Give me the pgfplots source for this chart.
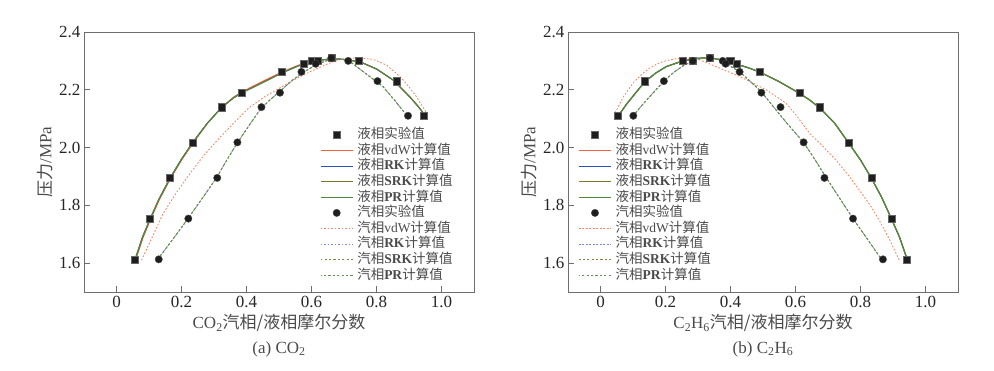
\documentclass[border=0pt]{standalone}
\usepackage{fontspec}
\setmainfont{Liberation Serif}
\newfontfamily\cjkfont{Noto Sans CJK SC}
\newcommand{\cjk}[1]{{\cjkfont #1}}
\usepackage{pgfplots}
\pgfplotsset{compat=1.18}
\definecolor{cvdw}{HTML}{F2603E}
\definecolor{crk}{HTML}{2A52BE}
\definecolor{csrk}{HTML}{7E7A22}
\definecolor{cpr}{HTML}{4F8A3F}
\definecolor{vvdw}{HTML}{F5845F}
\definecolor{vrk}{HTML}{7C86DA}
\definecolor{vsrk}{HTML}{8C8440}
\definecolor{vpr}{HTML}{58984C}
\definecolor{axgray}{HTML}{6E6E6E}
\definecolor{txt}{HTML}{4A4A4A}
\definecolor{mk}{HTML}{1E1E1E}

\pgfplotstableread{
x y
0.056 1.613
0.103 1.754
0.164 1.895
0.234 2.018
0.324 2.140
0.385 2.190
0.508 2.262
0.576 2.290
0.600 2.300
0.620 2.300
0.661 2.310
0.744 2.300
0.862 2.230
0.944 2.110
}\aLexp
\pgfplotstableread{
x y
0.130 1.613
0.221 1.754
0.310 1.895
0.372 2.018
0.446 2.140
0.503 2.190
0.569 2.262
0.613 2.290
0.661 2.310
0.713 2.300
0.803 2.230
0.897 2.110
}\aVexp
\pgfplotstableread{
x y
0.060 1.622
0.080 1.690
0.103 1.752
0.130 1.820
0.164 1.893
0.200 1.960
0.236 2.020
0.280 2.085
0.323 2.138
0.360 2.172
0.390 2.192
0.450 2.225
0.508 2.258
0.560 2.283
0.610 2.300
0.660 2.307
0.700 2.305
0.749 2.297
0.800 2.272
0.851 2.234
0.902 2.176
0.930 2.140
0.948 2.113
}\aLmod
\pgfplotstableread{
x y
0.062 1.622
0.082 1.690
0.105 1.752
0.132 1.820
0.166 1.893
0.202 1.960
0.238 2.020
0.282 2.087
0.325 2.141
0.362 2.176
0.392 2.196
0.450 2.229
0.508 2.261
0.560 2.285
0.610 2.301
0.660 2.307
0.700 2.305
0.749 2.297
0.800 2.272
0.851 2.234
0.902 2.176
0.930 2.140
0.948 2.113
}\aLvdw
\pgfplotstableread{
x y
0.128 1.615
0.175 1.685
0.220 1.754
0.265 1.826
0.308 1.896
0.340 1.958
0.374 2.020
0.410 2.080
0.441 2.130
0.470 2.163
0.502 2.194
0.540 2.232
0.580 2.264
0.620 2.290
0.660 2.306
0.690 2.307
0.718 2.298
0.760 2.262
0.800 2.228
0.820 2.211
0.860 2.158
0.895 2.108
}\aVmod
\pgfplotstableread{
x y
0.077 1.610
0.110 1.690
0.143 1.771
0.185 1.845
0.226 1.910
0.270 1.975
0.318 2.035
0.365 2.090
0.410 2.140
0.455 2.175
0.500 2.205
0.550 2.237
0.600 2.265
0.650 2.290
0.690 2.305
0.740 2.311
0.790 2.305
0.830 2.286
0.872 2.246
0.900 2.210
0.923 2.176
0.955 2.118
}\aVvdw

\pgfplotstableread{
x y
0.053 2.110
0.135 2.230
0.253 2.300
0.284 2.300
0.337 2.310
0.399 2.300
0.420 2.290
0.489 2.262
0.612 2.190
0.674 2.140
0.763 2.018
0.835 1.895
0.897 1.754
0.943 1.613
}\bLexp
\pgfplotstableread{
x y
0.101 2.110
0.195 2.230
0.284 2.300
0.337 2.310
0.376 2.300
0.385 2.290
0.428 2.262
0.495 2.190
0.554 2.140
0.625 2.018
0.689 1.895
0.777 1.754
0.869 1.613
}\bVexp
\pgfplotstableread{
x y
0.058 2.115
0.080 2.150
0.100 2.178
0.135 2.226
0.170 2.258
0.202 2.280
0.253 2.300
0.300 2.309
0.335 2.311
0.370 2.304
0.407 2.292
0.450 2.278
0.489 2.262
0.550 2.228
0.612 2.188
0.643 2.165
0.674 2.138
0.720 2.085
0.761 2.020
0.800 1.957
0.833 1.895
0.865 1.828
0.895 1.754
0.920 1.690
0.942 1.618
}\bLmod
\pgfplotstableread{
x y
0.101 2.110
0.125 2.143
0.151 2.176
0.197 2.232
0.225 2.260
0.253 2.282
0.292 2.305
0.335 2.312
0.360 2.305
0.387 2.291
0.428 2.262
0.460 2.230
0.495 2.193
0.533 2.140
0.575 2.082
0.625 2.018
0.660 1.958
0.695 1.895
0.735 1.826
0.777 1.754
0.820 1.685
0.865 1.612
}\bVmod
\pgfplotstableread{
x y
0.045 2.120
0.070 2.175
0.100 2.223
0.125 2.252
0.151 2.275
0.175 2.290
0.202 2.301
0.235 2.308
0.264 2.310
0.305 2.304
0.356 2.280
0.428 2.246
0.510 2.200
0.571 2.153
0.600 2.115
0.643 2.050
0.685 2.003
0.725 1.956
0.762 1.905
0.797 1.852
0.830 1.800
0.858 1.748
0.890 1.680
0.920 1.609
}\bVvdw

\pgfplotsset{
  myax/.style={
    width=390pt, height=260pt, scale only axis,
    xmin=-0.1, xmax=1.1, ymin=1.5, ymax=2.4,
    xtick={0,0.2,0.4,0.6,0.8,1.0}, xticklabels={0,0.2,0.4,0.6,0.8,1.0},
    ytick={1.6,1.8,2.0,2.2,2.4}, yticklabels={1.6,1.8,2.0,2.2,2.4},
    /pgf/number format/assume math mode=true,
    tick align=inside, xtick pos=bottom, ytick pos=left,
    major tick length=6pt,
    axis line style={axgray, line width=0.9pt},
    tick style={axgray, line width=0.9pt},
    ticklabel style={font=\rmfamily\fontsize{17}{18}\selectfont, text=black!85},
    xticklabel style={yshift=-1pt},
    label style={font=\rmfamily\fontsize{17}{18}\selectfont, text=txt},
    xlabel style={at={(axis description cs:0.5,-0.119)}, anchor=center},
    ylabel style={at={(axis description cs:-0.1,0.5)}, anchor=center},
    title style={at={(axis description cs:0.5,-0.243)}, anchor=center, font=\rmfamily\fontsize{17}{18}\selectfont, text=txt},
    legend cell align=left,
    legend image code/.code={\draw[mark repeat=2,mark phase=2,##1] plot coordinates {(0pt,0pt) (16pt,0pt) (32pt,0pt)};},
    legend style={draw=none, fill=none, inner sep=0pt, row sep=0pt,
      font=\rmfamily\fontsize{13.5}{14}\selectfont, text=txt,
      nodes={text height=10.6pt, text depth=3pt, inner sep=1pt},
      /tikz/every odd column/.append style={column sep=3pt}},
    clip=false,
  },
  sq/.style={only marks, mark=square*, mark size=3.6pt, mark options={fill=mk, draw=black!60, line width=0.4pt}},
  ci/.style={only marks, mark=*, mark size=3.7pt, mark options={fill=mk, draw=black!70, line width=0.4pt}},
  vd/.style={line width=0.85pt, dash pattern=on 1.7pt off 1.8pt},
  vd2/.style={line width=0.85pt, dash pattern=on 2.2pt off 2.2pt},
}
\newcommand{\Lq}{\cjk{液相}}
\newcommand{\Vq}{\cjk{汽相}}
\newcommand{\Js}{\cjk{计算值}}

\begin{document}
\begin{tikzpicture}[x=1pt,y=1pt]
\path[use as bounding box] (0,0) rectangle (994,370);
\begin{axis}[myax, at={(84pt,78pt)}, anchor=south west,
  xlabel={CO\textsubscript{2}\cjk{汽相/液相摩尔分数}},
  ylabel={\cjk{压力}/MPa},
  title={(a) CO\textsubscript{2}},
  legend style={at={(0.605,0.635)}, anchor=north west}]
\addplot[sq] table {\aLexp};
\addlegendentry{\cjk{液相实验值}}
\addplot[cvdw, line width=1.1pt] table {\aLvdw};
\addlegendentry{\Lq vdW\Js}
\addplot[crk, line width=1pt] table {\aLmod};
\addlegendentry{\Lq\textbf{RK}\Js}
\addplot[csrk, line width=1pt] table {\aLmod};
\addlegendentry{\Lq\textbf{SRK}\Js}
\addplot[cpr, line width=0.9pt] table {\aLmod};
\addlegendentry{\Lq\textbf{PR}\Js}
\addplot[ci] table {\aVexp};
\addlegendentry{\cjk{汽相实验值}}
\addplot[vvdw, vd] table {\aVvdw};
\addlegendentry{\Vq vdW\Js}
\addplot[vrk, vd] table {\aVmod};
\addlegendentry{\Vq\textbf{RK}\Js}
\addplot[vsrk, vd2, dash phase=0.6pt] table {\aVmod};
\addlegendentry{\Vq\textbf{SRK}\Js}
\addplot[vpr, vd2, dash phase=1.1pt] table {\aVmod};
\addlegendentry{\Vq\textbf{PR}\Js}
\end{axis}

\begin{axis}[myax, at={(568pt,78pt)}, anchor=south west,
  xlabel={C\textsubscript{2}H\textsubscript{6}\cjk{汽相/液相摩尔分数}},
  ylabel={\cjk{压力}/MPa},
  title={(b) C\textsubscript{2}H\textsubscript{6}},
  legend style={at={(0.026,0.635)}, anchor=north west}]
\addplot[sq] table {\bLexp};
\addlegendentry{\cjk{液相实验值}}
\addplot[cvdw, line width=1.1pt] table {\bLmod};
\addlegendentry{\Lq vdW\Js}
\addplot[crk, line width=0.8pt] table {\bLmod};
\addlegendentry{\Lq\textbf{RK}\Js}
\addplot[csrk, line width=0.8pt] table {\bLmod};
\addlegendentry{\Lq\textbf{SRK}\Js}
\addplot[cpr, line width=1.3pt] table {\bLmod};
\addlegendentry{\Lq\textbf{PR}\Js}
\addplot[ci] table {\bVexp};
\addlegendentry{\cjk{汽相实验值}}
\addplot[vvdw, vd] table {\bVvdw};
\addlegendentry{\Vq vdW\Js}
\addplot[vrk, vd] table {\bVmod};
\addlegendentry{\Vq\textbf{RK}\Js}
\addplot[vsrk, vd2, dash phase=0.6pt] table {\bVmod};
\addlegendentry{\Vq\textbf{SRK}\Js}
\addplot[vpr, vd2, dash phase=1.1pt] table {\bVmod};
\addlegendentry{\Vq\textbf{PR}\Js}
\end{axis}
\end{tikzpicture}
\end{document}
